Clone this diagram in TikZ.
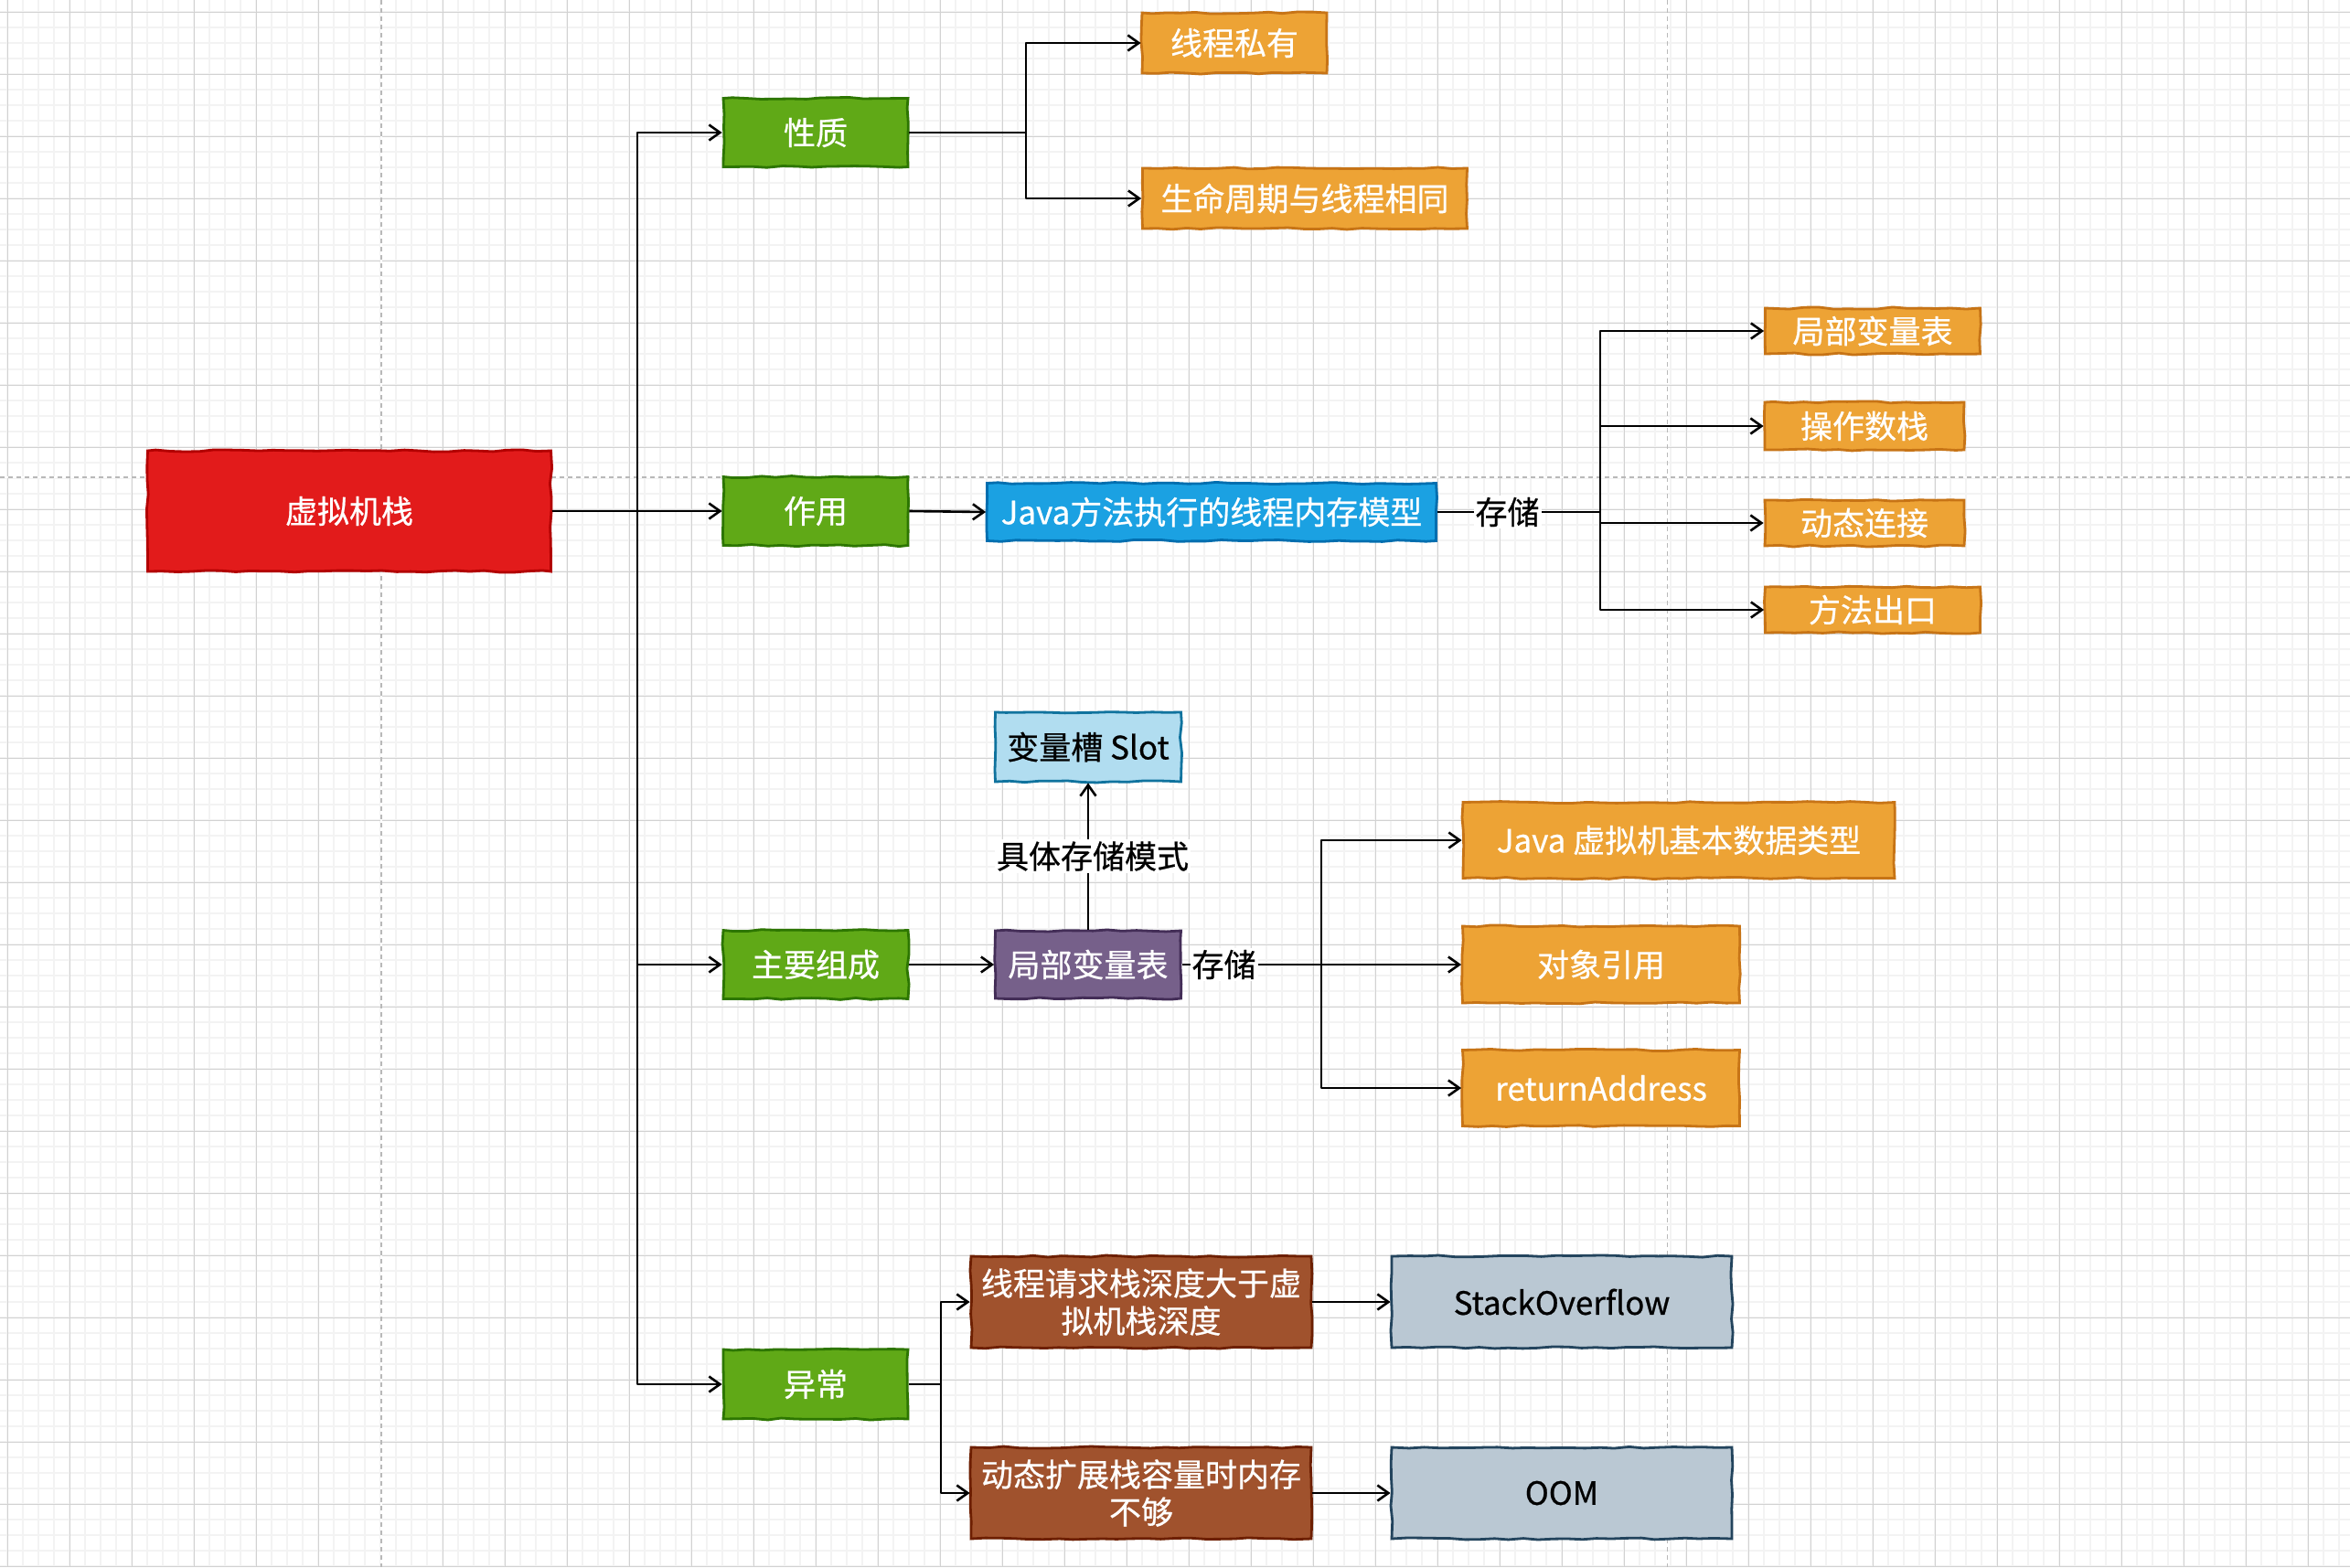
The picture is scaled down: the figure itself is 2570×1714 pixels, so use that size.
\documentclass[tikz,border=0pt]{standalone}
\usepackage{fontspec}
\newfontfamily\cjk[FakeBold=0.6]{Noto Sans CJK SC}
\usetikzlibrary{arrows.meta,decorations.pathmorphing}
\definecolor{redF}{HTML}{E21B1B}\definecolor{redD}{HTML}{B20000}
\definecolor{grnF}{HTML}{60A917}\definecolor{grnD}{HTML}{2D7600}
\definecolor{orgF}{HTML}{EDA335}\definecolor{orgD}{HTML}{C77416}
\definecolor{bluF}{HTML}{1BA1E2}\definecolor{bluD}{HTML}{006EAF}
\definecolor{lbF}{HTML}{B1DDF0}\definecolor{lbD}{HTML}{10739E}
\definecolor{purF}{HTML}{76608A}\definecolor{purD}{HTML}{432D57}
\definecolor{brnF}{HTML}{A0522D}\definecolor{brnD}{HTML}{6D1F00}
\definecolor{gryF}{HTML}{BAC8D3}\definecolor{gryD}{HTML}{23445D}
\definecolor{gmin}{HTML}{F3F3F3}\definecolor{gmaj}{HTML}{D2D2D2}
\pgfmathsetseed{7}
\tikzset{
  box/.style={draw, line width=2.8pt, inner sep=0pt, align=center, text=white,
    font=\cjk\fontsize{35pt}{41pt}\selectfont,
    decorate, decoration={random steps, segment length=16pt, amplitude=1.1pt}},
  rbox/.style={box, fill=redF, draw=redD},
  gbox/.style={box, fill=grnF, draw=grnD},
  obox/.style={box, fill=orgF, draw=orgD},
  bbox/.style={box, fill=bluF, draw=bluD},
  lbox/.style={box, fill=lbF, draw=lbD, text=black},
  pbox/.style={box, fill=purF, draw=purD},
  nbox/.style={box, fill=brnF, draw=brnD},
  sbox/.style={box, fill=gryF, draw=gryD, text=black},
  conn/.style={draw=black, line width=2.6pt, line join=round,
    -{Straight Barb[length=12pt,width=17pt,line width=2.6pt]}},
  plain/.style={draw=black, line width=2.6pt, line join=round},
  lbl/.style={fill=white, inner sep=2pt, text=black, font=\cjk\fontsize{35pt}{41pt}\selectfont},
  mingrid/.style={draw=gmin, line width=1.7pt},
  majgrid/.style={draw=gmaj, line width=1.3pt},
  pagebrk/.style={draw=gray!55, line width=1.6pt, dash pattern=on 5pt off 4pt}
}
\begin{document}
\begin{tikzpicture}[x=1pt,y=-1pt]
\useasboundingbox (0,0) rectangle (2570,1714);
\fill[white] (0,0) rectangle (2570,1714);
% grid
\foreach \i in {-1,...,151} \draw[mingrid] ({8.3+17*\i},0) -- ({8.3+17*\i},1714);
\foreach \i in {-1,...,101} \draw[mingrid] (0,{13.3+17*\i}) -- (2570,{13.3+17*\i});
\foreach \i in {0,...,37} \draw[majgrid] ({8.3+68*\i},0) -- ({8.3+68*\i},1714);
\foreach \i in {0,...,25} \draw[majgrid] (0,{13.3+68*\i}) -- (2570,{13.3+68*\i});
\draw[white, line width=2pt] (416.7,0) -- (416.7,1714);
\draw[pagebrk] (416.7,0) -- (416.7,1714);
\draw[pagebrk] (1823.5,0) -- (1823.5,1714);
\draw[white, line width=2pt] (0,521.7) -- (2570,521.7);
\draw[pagebrk] (0,521.7) -- (2570,521.7);

% nodes
\node[rbox, minimum width=441pt, minimum height=132pt] (vm) at (382,559) {虚拟机栈};
\node[gbox, minimum width=202pt, minimum height=75pt] (xz) at (892,145) {性质};
\node[gbox, minimum width=202pt, minimum height=75pt] (zy) at (892,559) {作用};
\node[gbox, minimum width=202pt, minimum height=75pt] (zc) at (892,1055) {主要组成};
\node[gbox, minimum width=202pt, minimum height=76pt] (yc) at (892,1514) {异常};

\node[obox, minimum width=202pt, minimum height=66pt] (p1) at (1350,47) {线程私有};
\node[obox, minimum width=355pt, minimum height=66pt] (p2) at (1427,217) {生命周期与线程相同};

\node[bbox, minimum width=491pt, minimum height=63pt] (jm) at (1325,560) {Java方法执行的线程内存模型};
\node[obox, minimum width=235pt, minimum height=50pt] (a1) at (2048,362) {局部变量表};
\node[obox, minimum width=218pt, minimum height=52pt] (a2) at (2039,466) {操作数栈};
\node[obox, minimum width=218pt, minimum height=50pt] (a3) at (2039,572) {动态连接};
\node[obox, minimum width=235pt, minimum height=50pt] (a4) at (2048,667) {方法出口};

\node[lbox, minimum width=203pt, minimum height=76pt] (slot) at (1190,817) {变量槽 Slot};
\node[pbox, minimum width=203pt, minimum height=74pt] (lv) at (1190,1055) {局部变量表};
\node[obox, minimum width=472pt, minimum height=83pt] (b1) at (1836,919) {Java 虚拟机基本数据类型};
\node[obox, minimum width=303pt, minimum height=84pt] (b2) at (1751,1055) {对象引用};
\node[obox, minimum width=303pt, minimum height=83pt] (b3) at (1751,1190) {returnAddress};

\node[nbox, minimum width=372pt, minimum height=100pt] (e1) at (1248,1424) {线程请求栈深度大于虚\\拟机栈深度};
\node[nbox, minimum width=372pt, minimum height=100pt] (e2) at (1248,1633) {动态扩展栈容量时内存\\不够};
\node[sbox, minimum width=372pt, minimum height=100pt] (s1) at (1708,1424) {StackOverflow};
\node[sbox, minimum width=372pt, minimum height=100pt] (s2) at (1708,1633) {OOM};

% trunk points
\coordinate (t0) at (697,559);
\coordinate (t1) at (1122,145);
\coordinate (t2) at (1750,560);
\coordinate (t3) at (1445,1055);
\coordinate (t4) at (1029,1514);

% connectors
\draw[conn] (vm.east) -- (t0) |- (xz.west);
\draw[conn] (vm.east) -- (zy.west);
\draw[conn] (vm.east) -- (t0) |- (zc.west);
\draw[conn] (vm.east) -- (t0) |- (yc.west);

\draw[conn] (xz.east) -- (t1) |- (p1.west);
\draw[conn] (xz.east) -- (t1) |- (p2.west);

\draw[conn] (zy.east) -- (jm.west);
\draw[plain] (jm.east) -- (t2) node[lbl, pos=0.43] {存储};
\foreach \n in {a1,a2,a3,a4} \draw[conn] (t2) |- (\n.west);

\draw[conn] (zc.east) -- (lv.west);
\draw[conn] (lv.north) -- (slot.south) node[lbl, midway, xshift=5pt] {具体存储模式};
\draw[plain] (lv.east) -- (t3) node[lbl, pos=0.3] {存储};
\foreach \n in {b1,b2,b3} \draw[conn] (t3) |- (\n.west);

\draw[conn] (yc.east) -- (t4) |- (e1.west);
\draw[conn] (yc.east) -- (t4) |- (e2.west);
\draw[conn] (e1.east) -- (s1.west);
\draw[conn] (e2.east) -- (s2.west);
\end{tikzpicture}
\end{document}
